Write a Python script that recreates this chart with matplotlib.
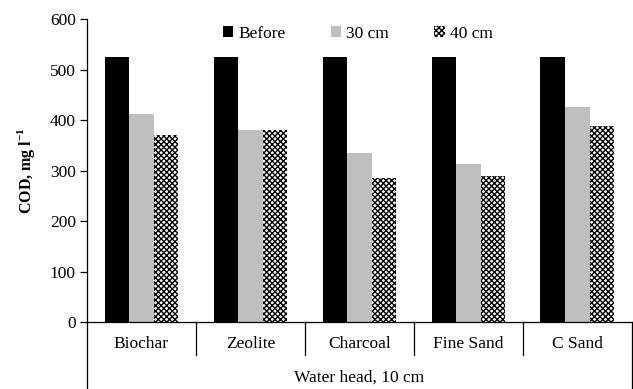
import matplotlib
matplotlib.use("Agg")
import matplotlib.pyplot as plt
import numpy as np
from matplotlib.lines import Line2D
from matplotlib.transforms import blended_transform_factory

plt.rcParams['font.family'] = ['Liberation Serif', 'DejaVu Serif']
plt.rcParams['mathtext.fontset'] = 'custom'
plt.rcParams['mathtext.rm'] = 'Liberation Serif'
plt.rcParams['mathtext.bf'] = 'Liberation Serif:bold'
plt.rcParams['hatch.linewidth'] = 1.0

categories = ["Biochar", "Zeolite", "Charcoal", "Fine Sand", "C Sand"]
before = [525, 525, 525, 525, 525]
cm30 = [412, 380, 335, 313, 426]
cm40 = [370, 380, 285, 289, 388]
series_names = ["Before", "30 cm", "40 cm"]
yticks = [0, 100, 200, 300, 400, 500, 600]

fs = 12.5

fig = plt.figure(figsize=(6.33, 3.89), dpi=100)
ax = fig.add_axes([0.1374, 0.172, 0.8606, 0.779])

x = np.arange(len(categories))
w = 0.225
ax.bar(x - w, before, w, color="black", label=series_names[0])
ax.bar(x, cm30, w, color="#bfbfbf", label=series_names[1])
ax.bar(x + w, cm40, w, color="white", edgecolor="black", linewidth=0,
       hatch="xxxxxx", label=series_names[2])

ax.set_xlim(-0.5, len(categories) - 0.5)
ax.set_ylim(0, 600)
ax.set_yticks(yticks)
ax.tick_params(axis="y", labelsize=fs, length=5, width=0.9, pad=3)
ax.set_xticks([])
for s in ["top", "right"]:
    ax.spines[s].set_visible(False)
ax.spines["left"].set_linewidth(0.9)
ax.spines["bottom"].set_linewidth(0.9)

ax.set_ylabel("COD, mg l$^{\\mathbf{-1}}$", fontsize=11.5, fontweight="bold", labelpad=9)

# category labels and divider boxes under the axis
trans = blended_transform_factory(ax.transData, ax.transAxes)
for i, c in enumerate(categories):
    ax.text(i, -0.072, c, transform=trans, ha="center", va="center", fontsize=fs)
for b in np.arange(0.5, len(categories) - 0.5, 1.0):
    ax.add_line(Line2D([b, b], [0, -0.11], transform=trans, color="black",
                       lw=0.9, clip_on=False))
ax.add_line(Line2D([len(categories) - 0.5] * 2, [0, -0.3], transform=trans,
                   color="black", lw=0.9, clip_on=False))
ax.add_line(Line2D([-0.5, -0.5], [0, -0.3], transform=trans,
                   color="black", lw=0.9, clip_on=False))
ax.text(0.5, -0.183, "Water head, 10 cm", transform=ax.transAxes,
        ha="center", va="center", fontsize=fs)

ax.legend(loc="upper center", bbox_to_anchor=(0.497, 1.03), ncol=3,
          frameon=False, fontsize=fs, handlelength=0.6, handleheight=0.6,
          handletextpad=0.3, columnspacing=2.6)

fig.savefig("out.png", dpi=100)
